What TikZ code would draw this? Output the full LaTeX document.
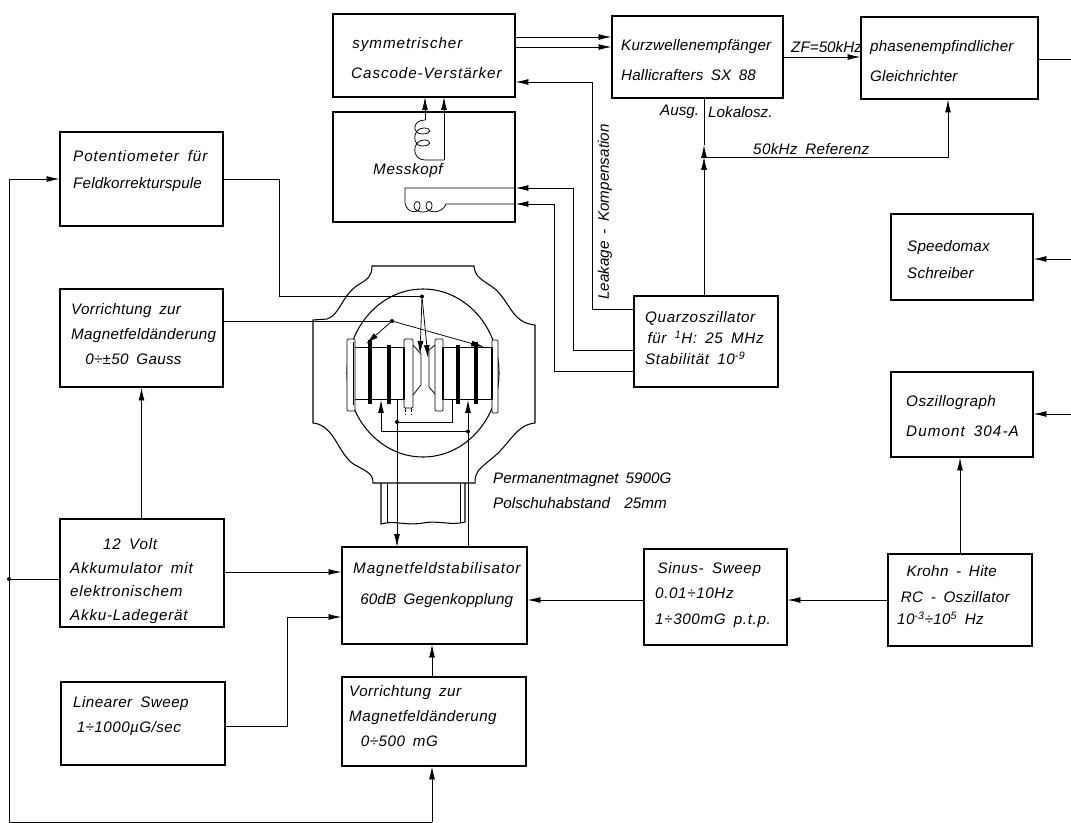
\documentclass[tikz,border=0pt]{standalone}
\usepackage{fontspec}
\setmainfont[WordSpace=1.7]{Liberation Sans}
\usetikzlibrary{arrows.meta,positioning}
\tikzset{
  blockbox/.style 2 args={draw,line width=0.9pt,minimum width=#1*0.8536pt,minimum height=#2*0.8536pt,inner sep=0pt},
  blocklabel/.style={font=\itshape\fontsize{13}{15}\selectfont\addfontfeature{LetterSpace=#1},align=left,anchor=west,inner sep=0pt},
  blocklabel/.default=2,
  sigline/.style={line width=0.65pt},
  sigarrow/.style={sigline,-{Latex[length=11pt,width=5pt]}},
  magnetline/.style={line width=0.9pt},
  junction/.style={circle,fill=black,inner sep=0pt,minimum size=3.4pt},
}
\begin{document}
\begin{tikzpicture}[x=0.03cm,y=-0.03cm]
        \useasboundingbox (0,0) rectangle (1071,823);
        \node[blockbox={182}{83}] (symm) at (424,55.5) {};
        \node[blockbox={182}{110}] (mess) at (424,167) {};
        \node[blockbox={171}{82}] (kurz) at (697.5,57) {};
        \node[blockbox={177}{82}] (phasen) at (949.5,58) {};
        \node[blockbox={142}{86}] (speedo) at (962,257) {};
        \node[blockbox={142}{85}] (oszi) at (962,414.5) {};
        \node[blockbox={144}{91}] (quarz) at (706,341.5) {};
        \node[blockbox={163}{94}] (poti) at (141.5,179) {};
        \node[blockbox={163}{98}] (vorra) at (141.5,338) {};
        \node[blockbox={164}{108}] (akku) at (142,573) {};
        \node[blockbox={164}{83}] (linear) at (143,723.5) {};
        \node[blockbox={185}{97}] (stab) at (434.5,595.5) {};
        \node[blockbox={184}{89}] (vorrb) at (434,721.5) {};
        \node[blockbox={143}{96}] (sinus) at (715.5,597) {};
        \node[blockbox={144}{92}] (krohn) at (960,600) {};

        \node[blocklabel=6] (symmtext) at (351,58.5) {\hspace*{1pt}symmetrischer\\[10.5pt]Cascode-Verstärker};
        \node[blocklabel=4] (messtext) at (373,171) {Messkopf};
        \node[blocklabel=1] (kurztext) at (621,60) {Kurzwellenempfänger\\[10pt]Hallicrafters SX 88};
        \node[blocklabel=1] (phasentext) at (870,61) {phasenempfindlicher\\[10pt]Gleichrichter};
        \node[blocklabel=1] (speedotext) at (907,260) {Speedomax\\[8pt]Schreiber};
        \node[blocklabel=3] (ozitext) at (906,416) {Oszillograph\\[10pt]{\addfontfeature{LetterSpace=7}Dumont 304-A}};
        \node[blocklabel=4] (quarztext) at (645,338) {Quarzoszillator\\[3pt]\hspace*{2pt}für \textsuperscript{1}H: 25 MHz\\[3pt]Stabilität 10\textsuperscript{-9}};
        \node[blocklabel=6] (potitext) at (73,171) {Potentiometer für\\[8pt]{\addfontfeature{LetterSpace=1}Feldkorrekturspule}};
        \node[blocklabel=2] (vorratext) at (71,334) {Vorrichtung zur\\[6pt]Magnetfeldänderung\\[6pt]\hspace*{12pt}0÷±50 Gauss};
        \node[blocklabel=5] (akkutext) at (70,581) {\hspace*{28pt}12 Volt\\[5pt]Akkumulator mit\\[5pt]elektronischem\\[5pt]Akku-Ladegerät};
        \node[blocklabel=3] (lineartext) at (73,716) {Linearer Sweep\\[7pt]\hspace*{3pt}1÷1000µG/sec};
        \node[blocklabel=1] (stabtext) at (353,585) {{\addfontfeature{LetterSpace=6}Magnetfeldstabilisator}\\[12pt]\hspace*{6pt}60dB Gegenkopplung};
        \node[blocklabel=3] (vorrbtext) at (349,716) {Vorrichtung zur\\[6pt]Magnetfeldänderung\\[6pt]\hspace*{10pt}0÷500 mG};
        \node[blocklabel=4] (sinustext) at (655,595) {\hspace*{2pt}Sinus- Sweep\\[7pt]0.01÷10Hz\\[7pt]1÷300mG p.t.p.};
        \node[blocklabel=2] (krohntext) at (897,595) {\hspace*{8pt}Krohn - Hite\\[7pt]\hspace*{3pt}RC - Oszillator\\[4pt]10\textsuperscript{-3}÷10\textsuperscript{5} Hz};
        \node[blocklabel=0] (permtext) at (493,491) {Permanentmagnet 5900G\\[6pt]Polschuhabstand\ \ 25mm};
        \node[blocklabel=0] (ausgtext) at (660,112) {Ausg.};
        \node[blocklabel=0] (lokaltext) at (708,112) {Lokalosz.};
        \node[blocklabel=2] (reftext) at (753,149) {50kHz Referenz};
        \node[blocklabel=0] (zftext) at (791,47) {ZF=50kHz};
        \node[blocklabel=0,anchor=center,rotate=90] (leaktext) at (605,212) {Leakage - Kompensation};

        \draw[magnetline] (313,320) -- (327,319) .. controls (340,315) and (342,295) .. (358,285)
          .. controls (368,279) and (372,276) .. (372,266) -- (474,266)
          .. controls (475,278) and (482,279) .. (495,289) .. controls (510,302) and (512,323) .. (535,325)
          -- (535,423) .. controls (515,425) and (510,445) .. (490,460) .. controls (478,470) and (475,472) .. (475,483)
          -- (373,483) .. controls (373,474) and (368,472) .. (355,465) .. controls (338,455) and (335,425) .. (313,423) -- cycle;
        \draw[magnetline] (423,373) ellipse [x radius=76,y radius=84];
        \draw[magnetline] (381,483) -- (381,524) .. controls (395,520) and (405,526) .. (423,523)
          .. controls (440,520) and (450,526) .. (465,522) -- (465,483);
        \draw[sigline] (387,483) -- (387,523);
        \draw[sigline] (460,483) -- (460,523);

        \foreach \xa/\xb in {355/403,443/492} {
          \draw[sigline] (\xa,347) -- (\xb,347);
          \draw[sigline] (\xa,399) -- (\xb,399);
        }
        \foreach \x/\ytop in {370/340,389/345,458/345,476/342} {
          \draw[line width=2.6pt] (\x,\ytop) -- (\x,404);
        }
        \draw[sigline,fill=white,rounded corners=1pt] (347,339) rectangle (355,411);
        \draw[sigline,fill=white,rounded corners=1pt] (404,339) rectangle (413,408);
        \draw[sigline,fill=white,rounded corners=1pt] (435,339) rectangle (443,411);
        \draw[sigline,fill=white,rounded corners=1pt] (492,340) rectangle (498,413);
        \draw[line width=1.6pt] (353.5,342) -- (353.5,405);
        \draw[line width=1.6pt] (404,347) -- (404,400);
        \draw[line width=1.6pt] (443,347) -- (443,400);
        \draw[line width=1.2pt] (492,347) -- (492,400);
        \draw[sigline] (413,345) -- (421,354) -- (421,385) -- (413,395);
        \draw[sigline] (435,345) -- (429,350) -- (429,387) -- (435,394);
        \draw[sigline,densely dashed] (411,408) -- (411,414);
        \draw[sigline,densely dashed] (405,408) -- (405,414);

        \coordinate (phasenout) at (1071,59);
        \coordinate (speedoin) at (1071,259);
        \coordinate (oszin) at (1071,414);
        \coordinate (leftbus) at (9,179);
        \node[junction] (akkujoin) at (9,579) {};
        \coordinate (bottomleft) at (9,822);
        \coordinate (bottomright) at (432,822);
        \node[junction] (sweepdot) at (422,296.5) {};
        \node[junction] (fielddot) at (392,321) {};
        \node[junction] (ringdot) at (397,422) {};
        \node[junction] (coildot) at (468,431.5) {};
        \coordinate (refjoin) at (704,157);
        \coordinate (reftip) at (704,145);

        \draw[sigarrow] (symm.east |- 0,37) -- (kurz.west |- 0,37);
        \draw[sigarrow] (symm.east |- 0,47) -- (kurz.west |- 0,47);
        \draw[sigarrow] (quarz.west |- 0,309) -- (592,309) -- (592,82) -- (symm.east |- 0,82);
        \draw[sigarrow] (425,120) -- (425,97);
        \draw[sigline] (425,120) .. controls (412,120) and (412,134) .. (422,134)
          .. controls (432,134) and (432,128) .. (424,128) .. controls (412,128) and (412,146) .. (422,146)
          .. controls (432,146) and (432,140) .. (424,140) .. controls (412,140) and (411,160) .. (425,160) -- (444,160);
        \draw[sigarrow] (444,160) -- (444,97);
        \draw[sigarrow] (quarz.west |- 0,350) -- (573,350) -- (573,188) -- (mess.east |- 0,188);
        \draw[sigarrow] (quarz.west |- 0,371) -- (554,371) -- (554,204) -- (mess.east |- 0,204);
        \draw[sigline] (mess.east |- 0,188) -- (405,188) -- (405,203) .. controls (407,214) and (420,214) .. (420,206)
          .. controls (420,199) and (414,201) .. (414,206) .. controls (414,214) and (432,214) .. (432,206)
          .. controls (432,199) and (426,201) .. (426,206) .. controls (426,214) and (443,214) .. (446,204)
          -- (mess.east |- 0,204);
        \draw[sigarrow] (kurz.east |- 0,57) -- (phasen.west |- 0,57);
        \draw[sigline] (phasen.east |- phasenout) -- (phasenout);
        \draw[sigline] (reftip) -- (kurz.south -| refjoin);
        \draw[sigarrow] (quarz.north -| refjoin) -- (refjoin);
        \draw[sigarrow] (refjoin) -- (reftip);
        \draw[sigarrow] (refjoin) -- (948,157) -- (phasen.south -| 948,0);
        \draw[sigarrow] (speedoin) -- (speedo.east |- speedoin);
        \draw[sigarrow] (oszin) -- (oszi.east |- oszin);
        \draw[sigarrow] (krohn.north) -- (oszi.south -| krohn.north);
        \draw[sigarrow] (krohn.west |- 0,600) -- (sinus.east |- 0,600);
        \draw[sigarrow] (sinus.west |- 0,600) -- (stab.east |- 0,600);
        \draw[sigarrow] (akku.east |- 0,572) -- (stab.west |- 0,572);
        \draw[sigarrow] (linear.east |- 0,726) -- (287,726) -- (287,617) -- (stab.west |- 0,617);
        \draw[sigarrow] (vorrb.north -| bottomright) -- (stab.south -| bottomright);
        \draw[sigarrow] (bottomright) -- (vorrb.south -| bottomright);
        \draw[sigline] (bottomright) -- (bottomleft) -- (leftbus);
        \draw[sigarrow] (leftbus) -- (poti.west);
        \draw[sigline] (akku.west |- akkujoin) -- (akkujoin);
        \draw[sigarrow] (akku.north -| vorra.south) -- (vorra.south);
        \draw[sigline] (poti.east) -- (279,179) -- (279,296.5) -- (sweepdot);
        \draw[sigline] (vorra.east |- fielddot) -- (fielddot);
        \draw[sigarrow] (sweepdot) -- (420,354);
        \draw[sigarrow] (sweepdot) -- (428,358);
        \draw[sigarrow] (fielddot) -- (366,344);
        \draw[sigarrow] (fielddot) -- (484,347);
        \draw[sigarrow] (coildot) -- (381,431.5) -- (381,400);
        \draw[sigarrow] (468,547) -- (468,400);
        \draw[sigarrow] (397,400) -- (397,547);
        \draw[sigline] (ringdot) -- (452,422) -- (452,400);
\end{tikzpicture}
\end{document}
